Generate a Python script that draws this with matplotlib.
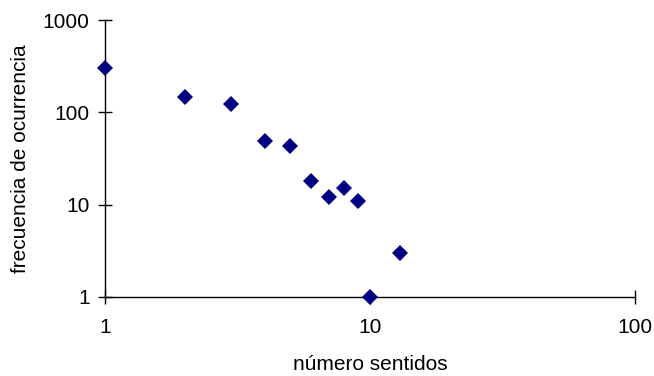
import matplotlib.pyplot as plt

plt.rcParams['font.family'] = ['Liberation Sans', 'DejaVu Sans']

senses = [1, 2, 3, 4, 5, 6, 7, 8, 9, 10, 13]
freq = [300, 147, 123, 49, 43, 18, 12, 15, 11, 1, 3]

fig = plt.figure(figsize=(6.54, 3.76), dpi=100)
ax = fig.add_axes([105/654, 1 - 297/376, 530/654, 277/376])

ax.plot(senses, freq, 'D', color='#000080', markersize=8.5, markeredgewidth=0,
        clip_on=False, zorder=3)

ax.set_xscale('log')
ax.set_yscale('log')
ax.set_xlim(1, 100)
ax.set_ylim(1, 1000)
ax.set_xticks([1, 10, 100], ['1', '10', '100'])
ax.set_yticks([1, 10, 100, 1000], ['1', '10', '100', '1000'])
ax.minorticks_off()

for s in ['top', 'right']:
    ax.spines[s].set_visible(False)
for s in ['left', 'bottom']:
    ax.spines[s].set_linewidth(1)
ax.tick_params(direction='inout', length=10, width=1, labelsize=15)
ax.tick_params(axis='x', pad=10)
ax.tick_params(axis='y', pad=6)

ax.set_xlabel('número sentidos', fontsize=15, labelpad=13)
ax.set_ylabel('frecuencia de ocurrencia', fontsize=15, labelpad=9)

plt.savefig('out.png', dpi=100)
